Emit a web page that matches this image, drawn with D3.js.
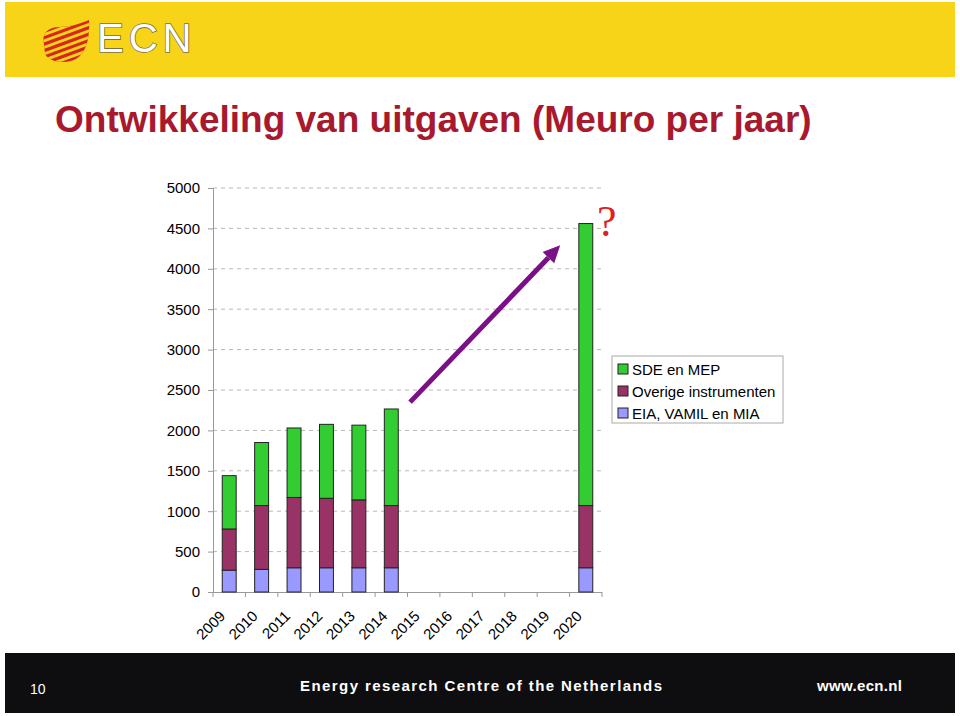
<!DOCTYPE html>
<html><head><meta charset="utf-8">
<script src="https://cdn.jsdelivr.net/npm/d3@7"></script>
<style>html,body{margin:0;padding:0;background:#fff}svg{display:block}</style>
</head><body>
<script>
const years = ["2009","2010","2011","2012","2013","2014","2015","2016","2017","2018","2019","2020"];
const eiaVamil = [270,280,300,300,300,300,null,null,null,null,null,300];
const overige  = [510,790,870,860,840,770,null,null,null,null,null,770];
const sdeMep   = [660,780,860,915,925,1195,null,null,null,null,null,3490];
const yTicks = [0,500,1000,1500,2000,2500,3000,3500,4000,4500,5000];
const seriesNames = ["SDE en MEP","Overige instrumenten","EIA, VAMIL en MIA"];
const seriesColors = ["#33CC33","#993366","#9999FF"];
const title = "Ontwikkeling van uitgaven (Meuro per jaar)";
const arrowFrom = [2014.58, 2350], arrowTo = [2019.21, 4290];

const W=960,H=716;
const svg=d3.select("body").append("svg").attr("width",W).attr("height",H);
const font="Liberation Sans, Arial, sans-serif";

// header
svg.append("rect").attr("x",5).attr("y",2).attr("width",950).attr("height",75).attr("fill","#F7D417");
const defs=svg.append("defs");
defs.append("clipPath").attr("id","heart").append("path")
  .attr("d","M44,44 C41,32 50,27 59,27 C70,27 79,24 89,20 C90,36 87,52 76,59 C67,64 50,63 45,54 Z");
const lg=svg.append("g").attr("clip-path","url(#heart)");
lg.append("rect").attr("x",38).attr("y",15).attr("width",56).attr("height",52).attr("fill","#D8261C");
for(let i=0;i<8;i++){
  const y0=22+i*6.4;
  lg.append("path").attr("d",`M36,${y0+14} L96,${y0-8} L96,${y0-5} L36,${y0+17} Z`).attr("fill","#F7D417");
}
svg.append("text").attr("x",97).attr("y",52).text("ECN")
  .attr("font-family",font).attr("font-size",40).attr("letter-spacing",5)
  .attr("fill","#fff").attr("stroke","#7d7048").attr("stroke-width",1.6).attr("paint-order","stroke");

// title
svg.append("text").attr("x",55).attr("y",132).text(title)
  .attr("font-family",font).attr("font-weight","bold")
  .attr("font-size",37).attr("fill","#A8192E");

// scales
const y=d3.scaleLinear().domain([0,5000]).range([592,188]);
const x=d3.scaleBand().domain(years).range([213,602]).padding(0);
const xLin=d3.scaleLinear().domain([2009,2020]).range([x("2009")+x.bandwidth()/2,x("2020")+x.bandwidth()/2]);

// gridlines
svg.append("g").selectAll("line").data(yTicks.filter(d=>d>0)).join("line")
  .attr("x1",213).attr("x2",603).attr("y1",d=>y(d)).attr("y2",d=>y(d))
  .attr("stroke","#b8b8b8").attr("stroke-dasharray","4,4").attr("stroke-width",1);

// y axis
const yAxis=svg.append("g").attr("transform","translate(213,0)")
  .call(d3.axisLeft(y).tickValues(yTicks).tickSize(5).tickPadding(8).tickFormat(d3.format("d")));
yAxis.select(".domain").attr("stroke","#999");
yAxis.selectAll(".tick line").attr("stroke","#999");
yAxis.selectAll("text").attr("font-family",font).attr("font-size",15).attr("fill","#000");

// x axis
svg.append("line").attr("x1",213).attr("x2",602).attr("y1",592.5).attr("y2",592.5).attr("stroke","#999");
const bounds=years.map(d=>x(d)).concat([x.range()[1]]);
svg.append("g").selectAll("line").data(bounds).join("line")
  .attr("x1",d=>d).attr("x2",d=>d).attr("y1",592).attr("y2",597).attr("stroke","#999");
svg.append("g").selectAll("text").data(years).join("text")
  .attr("transform",d=>`translate(${x(d)+x.bandwidth()/2-3},${617}) rotate(-45)`)
  .attr("text-anchor","end").attr("font-family",font).attr("font-size",15).text(d=>d);

// stacked bars
const rows=years.map((yr,i)=>({year:yr,eia:eiaVamil[i],ov:overige[i],sde:sdeMep[i]})).filter(r=>r.eia!=null);
const stack=d3.stack().keys(["eia","ov","sde"])(rows);
const colByKey={eia:seriesColors[2],ov:seriesColors[1],sde:seriesColors[0]};
const bw=x.bandwidth()*0.43;
stack.forEach(layer=>{
  svg.append("g").selectAll("rect").data(layer).join("rect")
    .attr("x",d=>x(d.data.year)+(x.bandwidth()-bw)/2).attr("width",bw)
    .attr("y",d=>y(d[1])).attr("height",d=>y(d[0])-y(d[1]))
    .attr("fill",colByKey[layer.key]).attr("stroke","#222").attr("stroke-width",1);
});

// arrow
const ax1=xLin(arrowFrom[0]),ay1=y(arrowFrom[1]),ax2=xLin(arrowTo[0]),ay2=y(arrowTo[1]);
const ang=Math.atan2(ay2-ay1,ax2-ax1);
const hl=17,hw=8;
const bx=ax2-hl*Math.cos(ang),by=ay2-hl*Math.sin(ang);
svg.append("line").attr("x1",ax1).attr("y1",ay1).attr("x2",bx).attr("y2",by)
  .attr("stroke","#7A0F86").attr("stroke-width",5);
svg.append("path").attr("d",`M${ax2},${ay2} L${bx-hw*Math.sin(ang)},${by+hw*Math.cos(ang)} L${bx+hw*Math.sin(ang)},${by-hw*Math.cos(ang)} Z`)
  .attr("fill","#7A0F86");

// question mark
svg.append("text").attr("x",x("2020")+x.bandwidth()-5).attr("y",236).text("?")
  .attr("font-family","Liberation Serif, Times New Roman, serif").attr("font-size",44).attr("fill","#E0201B");

// legend
const leg=svg.append("g").attr("transform","translate(612,356)");
leg.append("rect").attr("width",171).attr("height",67).attr("fill","#fff").attr("stroke","#aaa");
seriesNames.forEach((n,i)=>{
  const cy=13+i*22;
  leg.append("rect").attr("x",6).attr("y",cy-5).attr("width",10).attr("height",10).attr("fill",seriesColors[i]).attr("stroke","#222");
  leg.append("text").attr("x",20).attr("y",cy+5.5).text(n).attr("font-family",font).attr("font-size",15);
});

// footer
svg.append("rect").attr("x",5).attr("y",653).attr("width",950).attr("height",60).attr("fill","#0e0e10");
svg.append("text").attr("x",30).attr("y",694).text("10").attr("font-family",font).attr("font-size",14).attr("fill","#fff");
svg.append("text").attr("x",300).attr("y",691).text("Energy research Centre of the Netherlands")
  .attr("font-family","Liberation Sans Narrow, Liberation Sans, Arial, sans-serif").attr("font-weight","bold")
  .attr("font-size",15).attr("fill","#fff").attr("textLength",362).attr("lengthAdjust","spacing");
svg.append("text").attr("x",817).attr("y",691).text("www.ecn.nl")
  .attr("font-family","Liberation Sans Narrow, Liberation Sans, Arial, sans-serif").attr("font-weight","bold")
  .attr("font-size",15).attr("fill","#fff").attr("textLength",85).attr("lengthAdjust","spacing");
</script>
</body></html>
